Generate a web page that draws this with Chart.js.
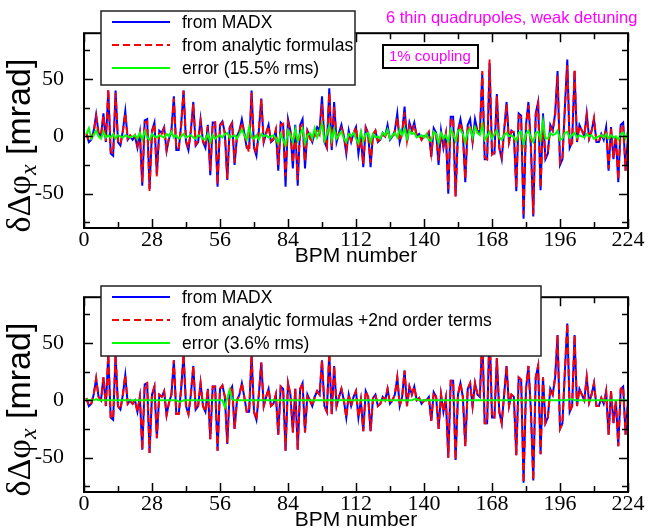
<!DOCTYPE html>
<html>
<head>
<meta charset="utf-8">
<script src="https://cdn.jsdelivr.net/npm/chart.js@4.4.0/dist/chart.umd.min.js"></script>
<style>
  body { margin: 0; background: #fff; }
  .panel { position: absolute; left: 0; width: 650px; height: 265px; }
</style>
</head>
<body>
<div class="panel" style="top:0"><canvas id="top" width="650" height="265"></canvas></div>
<div class="panel" style="top:264px"><canvas id="bottom" width="650" height="265"></canvas></div>
<script>
// phase beat difference per BPM

const madx = [
  2, -5, -3, 5, 19, 3, 0, 20, -5, 40,
  -15, -17, 40, -5, -8, 5, 22, -3, 0, -3,
  0, -10, 3, -43, 14, 15, -46, 5, 12, -33,
  5, 3, 8, -13, -2, 5, 35, -12, -12, 10,
  40, -5, -12, 5, 30, -8, -5, 15, -5, -10,
  10, -34, 12, 12, -44, 10, 13, 3, -38, 8,
  12, -25, 0, 5, 15, 3, -10, -10, 40, -10,
  -17, 5, 33, -5, 3, 10, -5, -3, 5, -30,
  12, 10, -44, 15, 5, -28, 10, -43, 10, 15,
  -28, 5, 0, -5, 3, 8, 5, 35, -5, -10,
  42, -12, 30, -5, 3, 10, 0, -15, 5, -5,
  3, 8, -15, 0, -27, 8, 3, -27, 2, 5,
  -5, -3, 3, 0, 10, -3, 0, 5, 20, -5,
  3, 26, -5, 12, 5, 12, 0, 2, -3, 0,
  0, 3, -18, 7, 3, -25, 5, -10, 2, -50,
  17, 17, -52, 5, 15, 3, -40, 10, 15, -5,
  15, 5, 3, 55, -20, -20, 64, -15, -15, 37,
  -10, -20, 5, 30, -5, 5, 3, -48, 20, 18,
  -72, 10, 30, -8, -70, 20, 30, -47, 20, -20,
  -15, 10, 5, 20, 57, -25, -20, 25, 67, -10,
  -5, 57, -5, 10, 5, 0, 20, -2, 5, 15,
  -5, -5, 2, -3, 8, -30, 8, -20, 0, -40,
  10, 12, -30, 0
]

const analytic1 = [
  3, -4, -2, 3, 17, 2, 1, 18, -4, 41,
  -13, -15, 38, -4, -7, 4, 20, -2, 1, -2,
  1, -8, 2, -40, 12, 13, -48, 4, 11, -35,
  4, 2, 7, -12, -1, 3, 33, -11, -10, 9,
  40, -4, -10, 4, 28, -7, -4, 13, -4, -8,
  9, -30, 11, 12, -42, 9, 12, 2, -37, 7,
  11, -23, 1, 4, 12, 2, -8, -14, 38, -9,
  -15, 6, 32, -4, 2, 9, -4, -2, 6, -25,
  10, 11, -35, 12, 4, -23, 6, -38, 8, 10,
  -22, 4, -2, -4, 0, 7, 2, 28, -2, -9,
  38, -10, 26, -4, 2, 7, 1, -12, 3, -4,
  1, 8, -11, -2, -24, 7, 1, -23, 1, 5,
  -4, -2, 1, 0, 5, -2, -1, 3, 16, -4,
  2, 21, -4, 9, 4, 10, 1, 2, -3, 1,
  0, 4, -15, 5, 2, -21, 3, -8, 2, -46,
  14, 16, -53, 2, 12, 2, -37, 7, 10, -4,
  10, 4, 3, 57, -18, -20, 67, -16, -14, 35,
  -10, -18, 4, 28, -5, 4, 4, -45, 18, 16,
  -68, 9, 27, -7, -68, 18, 28, -45, 10, -18,
  -14, 8, 5, 18, 53, -23, -19, 23, 62, -9,
  -6, 58, -4, 9, 5, 1, 18, -2, 4, 16,
  -4, -5, 1, -2, 6, -28, 7, -19, 1, -38,
  8, 10, -30, -4
]

const error1 = [
  2, 7, -2, 1, 5, 0, -2, 4, -1, 1,
  -1, 2, -2, 1, 0, -1, 1, 0, -1, 0,
  1, -2, 3, -3, 4, -1, -3, 2, 0, -1,
  1, 0, -1, 2, 0, 4, -1, 1, -2, 0,
  2, -1, 0, 1, -1, -2, 1, 0, -2, -3,
  2, -5, 1, -2, 0, 1, -1, 2, 3, -1,
  0, 1, -2, 2, 6, 1, -3, 8, -1, -2,
  1, -3, 2, 0, 1, -1, 0, 1, -2, -6,
  2, -3, -8, 5, 1, -5, 6, -4, 2, 7,
  -6, 1, 3, -2, 7, -1, 4, 11, -4, 2,
  9, -3, 6, -2, 1, 4, -2, -5, 2, 0,
  3, -2, -6, 4, -4, 2, 3, -5, 2, -1,
  0, -2, 3, 1, 6, -2, 1, 3, -1, 6,
  1, 7, -2, 5, 2, 3, -1, 0, 1, -1,
  2, -3, -4, 4, 2, -6, 3, -2, 1, -5,
  6, 2, -4, 5, 6, 2, -5, 4, 7, -1,
  8, 3, 1, 10, -3, 0, 4, -2, 2, 5,
  -1, -3, 1, 3, 0, 1, -1, -4, 3, 4,
  -7, 2, 5, -1, -5, 3, 4, -3, 13, -2,
  -2, 3, 1, 2, 5, -3, -2, 3, 4, -1,
  1, 3, -1, 1, 0, -1, 2, 0, 1, -2,
  -1, 0, 1, -1, 2, -2, 1, -1, 0, -3,
  2, 3, -2, 5
]

const analytic2 = [
  2, -5, -3, 5, 19, 3, 0, 20, -5, 40,
  -15, -16, 40, -5, -8, 5, 22, -3, 0, -3,
  0, -10, 3, -43, 14, 15, -46, 5, 12, -33,
  5, 3, 8, -13, -2, 5, 35, -12, -12, 10,
  40, -5, -12, 5, 30, -8, -5, 15, -5, -10,
  10, -34, 12, 12, -44, 10, 13, 3, -37, 8,
  12, -25, 0, 5, 15, 3, -10, -10, 40, -10,
  -17, 5, 33, -5, 3, 10, -5, -3, 5, -30,
  12, 10, -44, 15, 5, -28, 10, -43, 10, 15,
  -28, 5, 0, -5, 3, 8, 5, 35, -5, -10,
  42, -12, 30, -5, 3, 10, 0, -15, 5, -5,
  3, 8, -15, 0, -27, 8, 3, -27, 2, 5,
  -5, -3, 3, 0, 10, -3, 0, 5, 20, -5,
  3, 26, -5, 12, 5, 12, 0, 2, -3, 0,
  0, 3, -18, 7, 3, -25, 5, -10, 2, -50,
  17, 17, -52, 5, 15, 3, -40, 10, 15, -5,
  15, 5, 3, 56, -20, -20, 65, -15, -15, 37,
  -10, -20, 5, 30, -5, 5, 3, -48, 20, 18,
  -72, 10, 30, -8, -70, 20, 30, -47, 20, -20,
  -15, 10, 5, 20, 57, -25, -20, 25, 67, -10,
  -5, 57, -5, 10, 5, 0, 20, -2, 5, 15,
  -5, -5, 2, -3, 8, -30, 8, -20, 0, -40,
  10, 12, -30, 0
]

const error2 = [
  1, 0, 0, 0, 1, 0, 0, 0, 0, 0,
  0, 0, 0, 0, 0, 0, 0, 0, 0, 0,
  0, 0, 0, 0, 0, 0, 0, 0, 0, 0,
  0, 0, 0, 0, 0, 0, 0, 0, -1, -1,
  0, 0, 0, 0, 0, 0, 0, 0, 0, 0,
  0, 0, 0, 0, 0, 0, 0, -6, 2, 9,
  1, 0, 0, 0, 0, 0, 0, 0, 0, 0,
  0, 0, 0, 0, 0, 0, 0, 0, 0, 0,
  0, 0, 0, 0, 0, 0, 0, 0, 0, 0,
  0, 0, 0, 0, 0, 0, 0, 0, 0, 0,
  0, 0, 0, 0, 0, 0, 0, 0, 0, 0,
  0, 0, 0, 0, 0, 0, 0, 0, 0, 0,
  0, 0, 0, 0, 0, 0, 0, 0, 0, 0,
  0, 0, 0, 0, 0, 1, 1, 0, 0, 0,
  0, 0, 0, 0, 0, 0, 0, 0, 0, 0,
  0, 0, 0, 0, 0, 0, 0, 0, 0, 0,
  0, 0, 0, 0, 0, 0, 0, 0, 0, 0,
  0, 0, 0, 0, 0, 0, 0, 0, 0, 0,
  0, 0, 0, 0, 0, 0, 0, 0, 0, 0,
  0, 0, 0, 0, 0, 0, 0, 0, 0, 1,
  1, 0, 0, 0, 0, 0, 0, 0, 0, 0,
  0, 0, 0, 0, 0, 0, 0, 0, 0, 0,
  0, 0, 0, 0
]

const xTicks = [0, 14, 28, 42, 56, 70, 84, 98, 112, 126, 140, 154, 168, 182, 196, 210, 224]
const yTicks = [-75, -50, -25, 0, 25, 50, 75]

const BLUE = '#0000ff'
const RED = '#ff0000'
const GREEN = '#00ff00'
const MAGENTA = '#ff00ff'
const SERIF = "'Liberation Serif', 'DejaVu Serif', serif"
const SANS = "'Liberation Sans', Arial, sans-serif"

const pts = arr => arr.map((v, i) => ({ x: i + 1, y: v }))

// frame, inward ticks, legend box and y label
const decor = {
  id: 'decor',
  afterDatasetsDraw(chart, args, opts) {
    const { ctx, chartArea: a, scales: { x, y } } = chart
    ctx.save()
    ctx.strokeStyle = '#000'
    ctx.lineWidth = 1.5
    ctx.beginPath()
    xTicks.forEach(v => {
      const px = Math.round(x.getPixelForValue(v)) + 0.5
      const len = v % 28 === 0 ? 9 : 6
      ctx.moveTo(px, a.bottom); ctx.lineTo(px, a.bottom - len)
      ctx.moveTo(px, a.top); ctx.lineTo(px, a.top + len)
    })
    yTicks.forEach(v => {
      const py = Math.round(y.getPixelForValue(v)) + 0.5
      const len = v % 50 === 0 ? 9 : 6
      ctx.moveTo(a.left, py); ctx.lineTo(a.left + len, py)
      ctx.moveTo(a.right, py); ctx.lineTo(a.right - len, py)
    })
    ctx.stroke()
    ctx.lineWidth = 2
    ctx.strokeRect(a.left, a.top, a.right - a.left, a.bottom - a.top)

    // legend
    const lg = opts.legend
    ctx.fillStyle = '#fff'
    ctx.fillRect(lg.x, lg.y, lg.w, lg.h)
    ctx.strokeStyle = '#222'
    ctx.lineWidth = 1.5
    ctx.strokeRect(lg.x, lg.y, lg.w, lg.h)
    ctx.font = `17.5px ${SANS}`
    ctx.textBaseline = 'middle'
    chart.data.datasets.forEach((ds, i) => {
      const ry = lg.y + lg.rowTop + i * lg.rowGap
      ctx.strokeStyle = ds.borderColor
      ctx.lineWidth = 2
      ctx.setLineDash(ds.borderDash || [])
      ctx.beginPath()
      ctx.moveTo(lg.x + 11, ry); ctx.lineTo(lg.x + 69, ry)
      ctx.stroke()
      ctx.setLineDash([])
      ctx.fillStyle = '#000'
      ctx.fillText(ds.label, lg.x + 81, ry + 1)
    })

    // notes in magenta (top panel only)
    if (opts.notes) {
      ctx.fillStyle = MAGENTA
      ctx.font = `16.5px ${SANS}`
      ctx.fillText('6 thin quadrupoles, weak detuning', 386, 18)
      ctx.fillStyle = '#fff'
      ctx.fillRect(383, 45, 95, 23)
      ctx.strokeStyle = '#000'
      ctx.lineWidth = 2
      ctx.strokeRect(383, 45, 95, 23)
      ctx.fillStyle = MAGENTA
      ctx.font = `15px ${SANS}`
      ctx.fillText('1% coupling', 389, 57)
    }

    // y axis title: δΔφ with subscript x, then [mrad]
    const cy = (a.top + a.bottom) / 2 + 15
    ctx.translate(30, cy)
    ctx.rotate(-Math.PI / 2)
    ctx.fillStyle = '#000'
    ctx.textBaseline = 'alphabetic'
    const f1 = `34px ${SERIF}`, f2 = `italic 24px ${SERIF}`, f3 = `34px ${SANS}`
    const parts = [['δΔφ', f1, 0], ['x', f2, 6], [' [mrad]', f3, 0]]
    let total = 0
    parts.forEach(p => { ctx.font = p[1]; p.push(ctx.measureText(p[0]).width); total += p[3] })
    let px = -total / 2
    parts.forEach(p => {
      ctx.font = p[1]
      ctx.fillText(p[0], px, p[2])
      px += p[3]
    })
    ctx.restore()
  }
}

function makePanel(id, datasets, legend, notes) {
  return new Chart(document.getElementById(id), {
    type: 'line',
    data: { datasets },
    options: {
      responsive: false,
      animation: false,
      devicePixelRatio: 1,
      layout: { padding: { left: 0, right: 22, top: 32, bottom: 0 } },
      plugins: {
        legend: { display: false },
        tooltip: { enabled: false },
        decor: { legend, notes }
      },
      elements: { point: { radius: 0 }, line: { tension: 0 } },
      scales: {
        x: {
          type: 'linear', min: 0, max: 224,
          grid: { display: false, drawTicks: false },
          border: { display: false },
          afterBuildTicks: s => { s.ticks = xTicks.map(v => ({ value: v })) },
          afterFit: s => { s.height = 37 },
          ticks: {
            autoSkip: false, maxRotation: 0, padding: 1, color: '#000',
            font: { family: SERIF, size: 22, lineHeight: 1 },
            callback: v => (v % 28 === 0 ? String(v) : '')
          },
          title: {
            display: true, text: 'BPM number', color: '#000',
            font: { family: SANS, size: 21, lineHeight: 0.8 }, padding: { top: 0, bottom: 0 }
          }
        },
        y: {
          min: -80, max: 90,
          grid: { display: false, drawTicks: false },
          border: { display: false },
          afterBuildTicks: s => { s.ticks = yTicks.map(v => ({ value: v })) },
          afterFit: s => { s.width = 84 },
          ticks: {
            padding: 20, color: '#000',
            font: { family: SERIF, size: 22 },
            callback: v => (v % 50 === 0 ? String(v) : '')
          }
        }
      }
    },
    plugins: [decor]
  })
}

const lineSet = (label, arr, color, order, dash) => ({
  label, data: pts(arr), borderColor: color, borderWidth: 2,
  borderDash: dash, order, pointRadius: 0, fill: false
})

makePanel('top', [
  lineSet('from MADX', madx, BLUE, 2),
  lineSet('from analytic formulas', analytic1, RED, 1, [7, 4]),
  lineSet('error (15.5% rms)', error1, GREEN, 0)
], { x: 101, y: 11, w: 254, h: 74, rowTop: 11, rowGap: 23 }, true)

makePanel('bottom', [
  lineSet('from MADX', madx, BLUE, 2),
  lineSet('from analytic formulas +2nd order terms', analytic2, RED, 1, [7, 4]),
  lineSet('error (3.6% rms)', error2, GREEN, 0)
], { x: 101, y: 22, w: 440, h: 70, rowTop: 11, rowGap: 23 }, false)
</script>
</body>
</html>
